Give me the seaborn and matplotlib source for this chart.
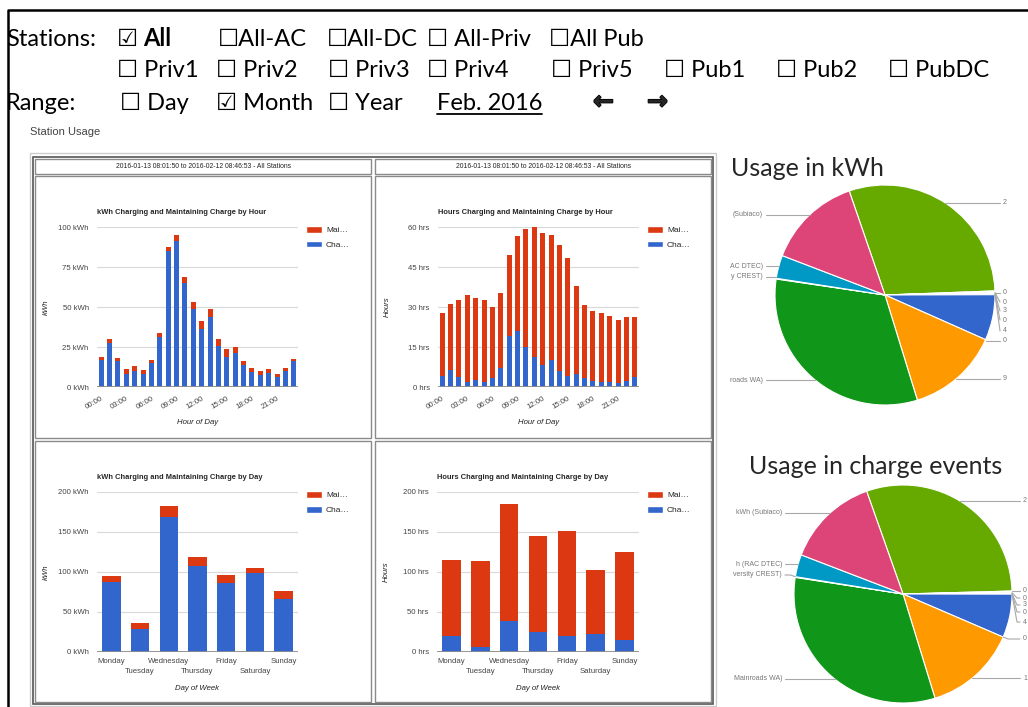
import numpy as np
import pandas as pd
import seaborn as sns
import matplotlib.pyplot as plt
import matplotlib.patheffects as pe
from matplotlib.patches import Rectangle, Patch

sns.set_style("white")
plt.rcParams["font.family"] = ["Liberation Sans", "DejaVu Sans"]

W, H = 1028, 707
RED = "#DC3912"
BLUE = "#3366CC"
UI_FONT = ["Lato", "DejaVu Sans"]

# ---- bar chart data ----
hours = ["00:00", "01:00", "02:00", "03:00", "04:00", "05:00", "06:00", "07:00",
         "08:00", "09:00", "10:00", "11:00", "12:00", "13:00", "14:00", "15:00",
         "16:00", "17:00", "18:00", "19:00", "20:00", "21:00", "22:00", "23:00"]
days = ["Monday", "Tuesday", "Wednesday", "Thursday", "Friday", "Saturday", "Sunday"]

kwh_hour_charge = [17, 27.5, 16, 8, 10, 8, 15, 31, 85, 91.5, 65, 48.5,
                   36.5, 44, 25.5, 19, 21.5, 14, 9.5, 7.7, 9, 6, 10, 16]
kwh_hour_maint = [2, 2.7, 2.3, 3, 3, 2.5, 2, 3, 2.5, 3.5, 4, 4.5,
                  4.5, 4.5, 4.5, 4.5, 3.5, 2.5, 2.2, 2.2, 2, 2.3, 1.8, 1.7]

hrs_hour_charge = [4, 6.5, 3.9, 2, 2.6, 1.9, 3.4, 7.1, 19.1, 20.9, 14.9, 11.1,
                   8.2, 10, 6, 4.2, 5, 3.4, 2.2, 1.9, 2, 1.5, 2.2, 3.8]
hrs_hour_maint = [23.8, 24.8, 28.9, 32.6, 30.7, 30.6, 26.6, 28.0, 30.3, 35.7, 44.2, 48.8,
                  49.7, 47.1, 47.3, 44.2, 33.0, 27.2, 26.2, 26.0, 24.8, 23.8, 23.9, 22.6]

kwh_day_charge = [87.5, 28.7, 169, 108, 86.7, 98.3, 65.8]
kwh_day_maint = [7.9, 8, 13.5, 10.3, 9.5, 6.3, 10]

hrs_day_charge = [20, 6.7, 38.7, 25, 20, 22.9, 15]
hrs_day_maint = [95.4, 107, 145.9, 119.6, 131.7, 80, 110]

# ---- pie data (clockwise order) ----
pie_colors = ["#66AA00", "#990099", "#DC3912", "#B82E2E", "#316395", "#994499",
              "#3366CC", "#FF9900", "#109618", "#22AA99", "#0099C6", "#DD4477"]
pie_kwh = [29.7, 0.15, 0.1, 0.1, 0.1, 0.1, 6.7, 13.6, 32.1, 0.1, 3.4, 13.9]
pie_events = [30.0, 0.15, 0.1, 0.1, 0.05, 0.05, 6.45, 13.8, 32.2, 0.1, 3.3, 13.75]
pie_kwh_labels = ["2", "0", "0", "3", "0", "4", "0", "9",
                  "roads WA)", "y CREST)", "AC DTEC)", "(Subiaco)"]
pie_events_labels = ["2", "0", "0", "3", "0", "4", "0", "1",
                     "Mainroads WA)", "versity CREST)", "h (RAC DTEC)", "kWh (Subiaco)"]

fig = plt.figure(figsize=(W / 100, H / 100), dpi=100)
deco = fig.add_axes([0, 0, 1, 1])
deco.set_xlim(0, W)
deco.set_ylim(0, H)
deco.axis("off")


def py(y):
    return H - y


def box(x0, y0, x1, y1, ec, lw=1.0):
    deco.add_patch(Rectangle((x0, py(y1)), x1 - x0, y1 - y0, fill=False, ec=ec, lw=lw))


# outer frame
deco.plot([8, 8, W], [py(H), py(10), py(10)], color="black", lw=1.8)

# header controls
def ui(x, y, s, **kw):
    deco.text(x, py(y), s, ha="left", va="baseline", fontsize=17, family=UI_FONT, color="black", **kw)

ui(6, 46, "Stations:")
ui(117, 46, "\u2611")
ui(143, 46, "All", fontweight="bold")
ui(218, 46, "\u2610All-AC")
ui(327, 46, "\u2610All-DC")
ui(427, 46, "\u2610 All-Priv")
ui(549, 46, "\u2610All Pub")
for x, s in [(117, "Priv1"), (216, "Priv2"), (328, "Priv3"), (427, "Priv4"),
             (551, "Priv5"), (664, "Pub1"), (776, "Pub2"), (888, "PubDC")]:
    ui(x, 77, "\u2610 " + s)
ui(6, 110, "Range:")
ui(120, 110, "\u2610 Day")
ui(216, 110, "\u2611 Month")
ui(328, 110, "\u2610 Year")
ui(437, 110, "Feb. 2016")
deco.plot([437, 542], [py(114), py(114)], color="black", lw=1.3)
heavy = [pe.withStroke(linewidth=1.1, foreground="black")]
deco.text(593, py(102), "\u2190", ha="left", va="center", fontsize=18, fontweight="bold",
          family="DejaVu Sans", path_effects=heavy)
deco.text(647, py(102), "\u2192", ha="left", va="center", fontsize=18, fontweight="bold",
          family="DejaVu Sans", path_effects=heavy)
deco.text(30, py(132), "Station Usage", ha="left", va="center", fontsize=8, color="#444")

# panel / table
box(30, 153, 716, 706, "#cccccc", 1.0)
box(33, 157, 713, 704, "#555555", 1.2)
for (x0, y0, x1, y1) in [(35, 159, 371, 174), (375, 159, 711, 174),
                         (35, 176, 371, 438), (375, 176, 711, 438),
                         (35, 441, 371, 702), (375, 441, 711, 702)]:
    box(x0, y0, x1, y1, "#8a8a8a", 1.0)
for cx in [203, 543]:
    deco.text(cx, py(166), "2016-01-13 08:01:50 to 2016-02-12 08:46:53 - All Stations",
              ha="center", va="center", fontsize=4.9, color="#222")


def stacked_chart(px_box, cats, charge, maint, ymax, step, unit, title, ylabel, xlabel, legend_xy, rotate):
    x0, y0, x1, y1 = px_box
    ax = fig.add_axes([x0 / W, 1 - y1 / H, (x1 - x0) / W, (y1 - y0) / H])
    ax.set_facecolor("none")
    df = pd.DataFrame({"cat": cats, "charge": charge, "total": np.add(charge, maint)})
    width = 0.6 if rotate else 0.64
    sns.barplot(data=df, x="cat", y="total", color=RED, saturation=1, width=width,
                errorbar=None, ax=ax, linewidth=0)
    sns.barplot(data=df, x="cat", y="charge", color=BLUE, saturation=1, width=width,
                errorbar=None, ax=ax, linewidth=0)
    ticks = np.arange(0, ymax + 1, step)
    ax.set_ylim(0, ymax)
    ax.set_yticks(ticks)
    ax.set_yticklabels([f"{t} {unit}" for t in ticks])
    ax.grid(axis="y", color="#d9d9d9", lw=0.8)
    ax.set_axisbelow(True)
    ax.axhline(0, color="#8c8c8c", lw=1.3, zorder=3)
    sns.despine(ax=ax, left=True, bottom=True)
    ax.tick_params(axis="both", which="both", length=0, labelsize=5.6, labelcolor="#444")
    ax.tick_params(axis="y", pad=6)
    if rotate:
        idx = list(range(0, len(cats), 3))
        ax.set_xticks(idx)
        ax.set_xticklabels([cats[i] for i in idx], rotation=30, ha="right", rotation_mode="anchor")
        ax.tick_params(axis="x", pad=6)
        ax.xaxis.set_label_coords(0.5, -0.2)
    else:
        even = list(range(0, len(cats), 2))
        odd = list(range(1, len(cats), 2))
        ax.set_xticks(even, labels=[cats[i] for i in even])
        ax.set_xticks(odd, labels=[cats[i] for i in odd], minor=True)
        ax.tick_params(axis="x", which="major", pad=4)
        ax.tick_params(axis="x", which="minor", pad=11.5)
        ax.xaxis.set_label_coords(0.5, -0.205)
    ax.set_xlabel(xlabel, fontstyle="italic", fontsize=5.6, color="#222")
    ax.set_ylabel(ylabel, fontstyle="italic", fontsize=5.6, color="#222")
    ax.yaxis.set_label_coords(-0.234, 0.5)
    ax.set_title(title, loc="left", fontsize=5.4, fontweight="bold", pad=9.5)
    handles = [Patch(facecolor=RED, label="Mai\u2026"), Patch(facecolor=BLUE, label="Cha\u2026")]
    lx, ly = legend_xy
    ax.legend(handles=handles, loc="upper left", bbox_to_anchor=(lx / W, 1 - ly / H),
              bbox_transform=fig.transFigure, frameon=False, fontsize=6, handlelength=1.9,
              handleheight=0.9, handletextpad=0.5, labelspacing=0.75, borderpad=0, borderaxespad=0)
    return ax


stacked_chart((97, 227, 298, 387), hours, kwh_hour_charge, kwh_hour_maint, 100, 25, "kWh",
              "kWh Charging and Maintaining Charge by Hour", "kWh", "Hour of Day", (306, 226), True)
stacked_chart((438, 227, 639, 387), hours, hrs_hour_charge, hrs_hour_maint, 60, 15, "hrs",
              "Hours Charging and Maintaining Charge by Hour", "Hours", "Hour of Day", (647, 226), True)
stacked_chart((97, 492, 298, 652), days, kwh_day_charge, kwh_day_maint, 200, 50, "kWh",
              "kWh Charging and Maintaining Charge by Day", "kWh", "Day of Week", (306, 491), False)
stacked_chart((437, 492, 639, 652), days, hrs_day_charge, hrs_day_maint, 200, 50, "hrs",
              "Hours Charging and Maintaining Charge by Day", "Hours", "Day of Week", (647, 491), False)


def draw_pie(vals, labels, label_ys, cx, cy, r, start, left_end, right_start):
    cyd = py(cy)
    wedges, _ = deco.pie(vals, colors=pie_colors, startangle=start, counterclock=False,
                         center=(cx, cyd), radius=r,
                         wedgeprops=dict(edgecolor="white", linewidth=0.8))
    for w, txt, ly in zip(wedges, labels, label_ys):
        t1, t2 = w.theta1, w.theta2
        mid = (t1 + t2) / 2
        right = np.cos(np.deg2rad(mid)) >= 0
        lyd = py(ly)
        s = np.clip((lyd - cyd) / r, -1, 1)
        a = np.degrees(np.arcsin(s))
        if not right:
            a = 180 - a
        a = a + 360 * np.round((mid - a) / 360)
        a = np.clip(a, t1, t2)
        ex = cx + r * np.cos(np.deg2rad(a))
        ey = cyd + r * np.sin(np.deg2rad(a))
        end = right_start - 3 if right else left_end + 3
        knee = ex + 5 if right else ex - 5
        if abs(ey - lyd) > 1.5:
            xs, ys = [ex, knee, end], [ey, lyd, lyd]
        else:
            xs, ys = [ex, end], [lyd, lyd]
        deco.plot(xs, ys, color="#a8a8a8", lw=0.8)
        if right:
            deco.text(right_start, lyd, txt, ha="left", va="center", fontsize=5, color="#777")
        else:
            deco.text(left_end, lyd, txt, ha="right", va="center", fontsize=5, color="#777")


draw_pie(pie_kwh, pie_kwh_labels, [203, 293, 302, 311, 320, 331, 341, 379, 380, 277, 266, 215],
         885, 295, 110, 109, 763, 1003)
draw_pie(pie_events, pie_events_labels, [501, 591, 598, 605, 612, 622, 639, 678, 679, 575, 564, 513],
         903, 594, 109, 109.5, 782, 1023)
deco.set_xlim(0, W)
deco.set_ylim(0, H)
deco.axis("off")

deco.text(807, py(169), "Usage in kWh", ha="center", va="center", fontsize=18, family=UI_FONT)
deco.text(876, py(467), "Usage in charge events", ha="center", va="center", fontsize=18, family=UI_FONT)

fig.savefig("out.png", dpi=100)
